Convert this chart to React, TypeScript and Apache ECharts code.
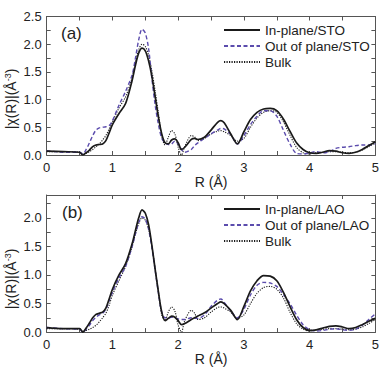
import React, { useEffect, useRef } from "react";
import * as echarts from "echarts";

const R = [0, 0.25, 0.5, 0.55, 0.6, 0.65, 0.7, 0.75, 0.8, 0.85, 0.9, 0.95, 1.0, 1.1, 1.2, 1.3, 1.35, 1.4, 1.45, 1.5, 1.55, 1.6, 1.65, 1.7, 1.75, 1.8, 1.85, 1.9, 1.95, 2.0, 2.05, 2.1, 2.2, 2.25, 2.3, 2.4, 2.5, 2.6, 2.65, 2.7, 2.8, 2.9, 3.0, 3.1, 3.2, 3.3, 3.4, 3.5, 3.6, 3.7, 3.8, 3.9, 4.0, 4.1, 4.2, 4.3, 4.4, 4.5, 4.6, 4.7, 4.8, 4.9, 5.0];

const namesA = ["In-plane/STO", "Out of plane/STO", "Bulk"];
const namesB = ["In-plane/LAO", "Out of plane/LAO", "Bulk"];

const aIn = [0.07, 0.06, 0.05, 0.0, 0.04, 0.09, 0.15, 0.18, 0.19, 0.2, 0.26, 0.4,
  0.55, 0.75, 0.93, 1.35,
  1.62, 1.84, 1.93, 1.88, 1.7, 1.42, 1.05, 0.68, 0.38, 0.22, 0.2, 0.27, 0.29, 0.22, 0.1,
  0.14, 0.28, 0.3, 0.28,
  0.32, 0.45, 0.59,
  0.62, 0.58,
  0.38, 0.2, 0.42, 0.64, 0.77, 0.83, 0.84, 0.8, 0.65, 0.43, 0.22, 0.1, 0.04, 0.03, 0.05, 0.08, 0.07, 0.04, 0.03, 0.05, 0.1, 0.17, 0.24];
const aOut = [0.08, 0.05, 0.05, 0.02, 0.1, 0.22, 0.35, 0.45, 0.49, 0.5, 0.51, 0.53,
  0.62, 0.9, 1.15, 1.45,
  1.75, 2.08, 2.27, 2.2, 1.92, 1.38, 0.9, 0.55, 0.3, 0.22, 0.19, 0.2, 0.25, 0.2, 0.1,
  0.05, 0.1, 0.17, 0.22,
  0.3, 0.38, 0.45,
  0.48, 0.47,
  0.37, 0.2, 0.35, 0.55, 0.7, 0.8, 0.8, 0.7, 0.45, 0.2, 0.03, 0.02, 0.04, 0.06, 0.04, 0.06, 0.12, 0.14, 0.15, 0.17, 0.18, 0.18, 0.2];
const aBulk = [0.06, 0.06, 0.05, 0.01, 0.03, 0.06, 0.1, 0.15, 0.2, 0.27, 0.35, 0.47,
  0.6, 0.85, 1.05, 1.4,
  1.68, 1.9, 2.0, 1.96, 1.8, 1.52, 1.15, 0.75, 0.35, 0.18, 0.32, 0.44, 0.38, 0.14, 0.0,
  0.15, 0.35, 0.33, 0.26,
  0.3, 0.38, 0.43,
  0.44, 0.42,
  0.35, 0.25, 0.3, 0.5, 0.67, 0.77, 0.8, 0.77, 0.6, 0.36, 0.14, 0.04, 0.02, 0.04, 0.05, 0.06, 0.06, 0.05, 0.04, 0.05, 0.09, 0.15, 0.22];

const bIn = [0.08, 0.06, 0.06, 0.0, 0.07, 0.16, 0.25, 0.31, 0.33, 0.35, 0.42, 0.58,
  0.75, 1.0, 1.2, 1.55,
  1.78, 2.0, 2.14, 2.08, 1.88, 1.52, 1.1, 0.7, 0.35, 0.2, 0.24, 0.28, 0.26, 0.2, 0.13,
  0.15, 0.22, 0.25, 0.28,
  0.34, 0.42, 0.5,
  0.53, 0.5,
  0.38, 0.22, 0.45, 0.72, 0.9, 0.99, 0.98, 0.9, 0.7, 0.45, 0.22, 0.08, 0.03, 0.04, 0.07, 0.1, 0.11, 0.09, 0.06, 0.08, 0.13, 0.19, 0.24];
const bOut = [0.08, 0.06, 0.05, 0.0, 0.05, 0.12, 0.2, 0.26, 0.3, 0.33, 0.4, 0.55,
  0.7, 0.95, 1.15, 1.5,
  1.72, 1.92, 2.02, 1.98, 1.8, 1.48, 1.08, 0.68, 0.35, 0.25, 0.25, 0.26, 0.25, 0.23, 0.22,
  0.22, 0.25, 0.24, 0.24,
  0.3, 0.45, 0.56,
  0.58, 0.52,
  0.37, 0.25, 0.4, 0.65, 0.82, 0.87, 0.86, 0.8, 0.66, 0.5, 0.3, 0.13, 0.04, 0.02, 0.03, 0.05, 0.06, 0.04, 0.03, 0.05, 0.12, 0.22, 0.32];
const bBulk = [0.06, 0.06, 0.05, 0.01, 0.03, 0.05, 0.08, 0.12, 0.18, 0.25, 0.33, 0.47,
  0.65, 0.9, 1.15, 1.5,
  1.72, 1.9, 2.0, 1.96, 1.8, 1.5, 1.1, 0.7, 0.3, 0.2, 0.35, 0.44, 0.37, 0.12, 0.0,
  0.2, 0.38, 0.33, 0.22,
  0.25, 0.35, 0.43,
  0.44, 0.42,
  0.35, 0.24, 0.3, 0.5, 0.68, 0.78, 0.8, 0.75, 0.6, 0.35, 0.15, 0.05, 0.02, 0.04, 0.05, 0.06, 0.06, 0.05, 0.04, 0.05, 0.09, 0.15, 0.22];

const FONT = "Liberation Sans, Arial, sans-serif";
const AXIS_COLOR = "#555";
const TEXT_COLOR = "#222";

const styles = [
  { color: "#1a1a1a", width: 1.7, type: "solid" as any },
  { color: "#5b4cad", width: 1.4, type: [4, 2.5] as any },
  { color: "#1a1a1a", width: 1.1, type: [1.2, 1.3] as any },
];

export default function App() {
  const ref = useRef<HTMLDivElement>(null);
  useEffect(() => {
    if (!ref.current) return;
    const chart = echarts.init(ref.current, undefined, { renderer: "svg" });

    const grids = [
      { left: 46.7, right: 5.3, top: 16.5, height: 138.5 },
      { left: 46.7, right: 5.3, top: 195, height: 139 },
    ];
    const yMax = [2.5, 2.4];

    const xAxes: any[] = [];
    const yAxes: any[] = [];
    [0, 1].forEach((g) => {
      const baseX = {
        type: "value",
        gridIndex: g,
        min: 0,
        max: 5,
        interval: 0.5,
        axisLine: { show: true, onZero: false, lineStyle: { color: AXIS_COLOR, width: 1 } },
        axisTick: { show: true, inside: true, length: 4, lineStyle: { color: AXIS_COLOR } },
        splitLine: { show: false },
      };
      xAxes.push({
        ...baseX,
        position: "bottom",
        name: "R (Å)",
        nameLocation: "middle",
        nameGap: 12,
        nameTextStyle: { fontSize: 14, color: TEXT_COLOR, fontFamily: FONT },
        axisLabel: {
          show: true,
          margin: 6,
          fontSize: 13,
          color: TEXT_COLOR,
          fontFamily: FONT,
          formatter: (v: number) => (Math.abs(v - Math.round(v)) < 1e-6 ? String(Math.round(v)) : ""),
        },
      });
      xAxes.push({ ...baseX, position: "top", axisLabel: { show: false } });
      const baseY = {
        type: "value",
        gridIndex: g,
        min: 0,
        max: yMax[g],
        interval: 0.25,
        axisLine: { show: true, onZero: false, lineStyle: { color: AXIS_COLOR, width: 1 } },
        axisTick: { show: true, inside: true, length: 4, lineStyle: { color: AXIS_COLOR } },
        splitLine: { show: false },
      };
      yAxes.push({
        ...baseY,
        position: "left",
        axisLabel: {
          show: true,
          margin: 5,
          fontSize: 13,
          color: TEXT_COLOR,
          fontFamily: FONT,
          formatter: (v: number) => {
            const k = v / 0.5;
            if (Math.abs(k - Math.round(k)) > 1e-6) return "";
            if (v > 2.3 && g === 1) return "";
            return v.toFixed(1);
          },
        },
      });
      yAxes.push({ ...baseY, position: "right", axisLabel: { show: false } });
    });

    const mk = (name: string, vals: number[], idx: number, g: number) => ({
      type: "line",
      name,
      xAxisIndex: g * 2,
      yAxisIndex: g * 2,
      data: R.map((r, i) => [r, vals[i]]),
      showSymbol: false,
      symbol: "none",
      smooth: 0.3,
      lineStyle: styles[idx],
      itemStyle: { color: styles[idx].color },
      z: 10 - idx,
    });

    const series = [
      mk(namesA[0], aIn, 0, 0),
      mk(namesA[1], aOut, 1, 0),
      mk(namesA[2], aBulk, 2, 0),
      mk(namesB[0], bIn, 0, 1),
      mk(namesB[1], bOut, 1, 1),
      mk(namesB[2], bBulk, 2, 1),
    ];

    const legendBase = {
      orient: "vertical",
      left: 223,
      padding: 0,
      itemWidth: 36,
      itemHeight: 10,
      itemGap: 0,
      selectedMode: false,
      itemStyle: { opacity: 0 },
      textStyle: { fontSize: 13.5, lineHeight: 16, color: TEXT_COLOR, fontFamily: FONT },
    };

    const yName = (y: number) => ({
      type: "text",
      x: 11,
      y,
      rotation: Math.PI / 2,
      style: {
        text: "{n||χ(R)|(Å}{s|-3}{n|)}",
        align: "center",
        verticalAlign: "middle",
        fill: TEXT_COLOR,
        font: `14px ${FONT}`,
        rich: {
          n: { fontSize: 14, fontFamily: FONT, fill: TEXT_COLOR, lineHeight: 16 },
          s: { fontSize: 9, fontFamily: FONT, fill: TEXT_COLOR, lineHeight: 10, verticalAlign: "top" },
        },
      },
    });

    chart.setOption({
      animation: false,
      backgroundColor: "#fff",
      grid: grids,
      xAxis: xAxes,
      yAxis: yAxes,
      legend: [
        { ...legendBase, top: 22, data: namesA.slice(0, 2).concat(["Bulk"]) },
        { ...legendBase, top: 201, data: namesB.slice(0, 2).concat(["Bulk"]) },
      ],
      series,
      graphic: [
        yName(99),
        yName(279),
        {
          type: "text",
          left: 61,
          top: 25,
          style: { text: "(a)", font: `17px ${FONT}`, fill: TEXT_COLOR },
        },
        {
          type: "text",
          left: 62,
          top: 204,
          style: { text: "(b)", font: `17px ${FONT}`, fill: TEXT_COLOR },
        },
      ],
    });
    return () => chart.dispose();
  }, []);
  return (
    <div
      ref={ref}
      style={{ position: "fixed", left: 0, top: 0, width: 382, height: 367, background: "#fff" }}
    />
  );
}
